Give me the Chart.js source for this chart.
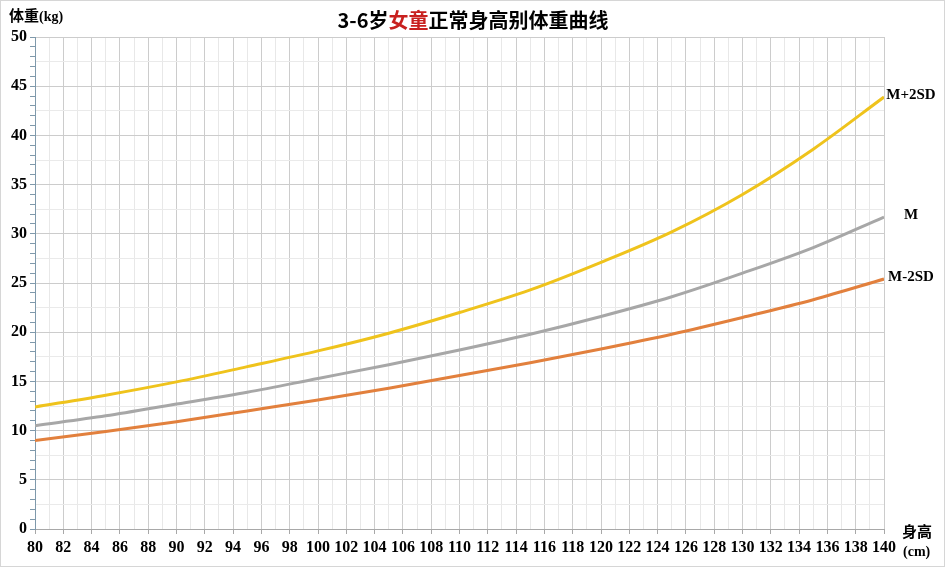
<!DOCTYPE html>
<html>
<head>
<meta charset="utf-8">
<script src="https://cdn.jsdelivr.net/npm/chart.js@4/dist/chart.umd.min.js"></script>
<style>
  html, body { margin: 0; padding: 0; background: #fff; }
  #wrap { position: relative; width: 946px; height: 568px; overflow: hidden; }
  canvas { position: absolute; left: 0; top: 0; }
  .t { position: absolute; white-space: nowrap; color: #000; font-weight: bold; }
  .cjk { font-family: "Noto Sans CJK SC", sans-serif; }
  .ser { font-family: "Liberation Serif", "Times New Roman", serif; }
  #frame { position: absolute; left: 0; top: 0; width: 943px; height: 565px; border: 1.5px solid #d6d6d6; pointer-events: none; }
</style>
</head>
<body>
<div id="wrap">
  <canvas id="c" width="946" height="568"></canvas>
  <div class="t cjk" style="left:0;width:946px;top:7px;text-align:center;font-size:20px;line-height:26px;">3-6岁<span style="color:#c8201e">女童</span>正常身高别体重曲线</div>
  <div class="t" style="left:9px;top:4px;font-size:15px;line-height:22px;"><span class="cjk">体重</span><span class="ser" style="font-size:14px">(kg)</span></div>
  <div class="t cjk" style="left:902px;top:520px;font-size:15px;line-height:22px;">身高</div>
  <div class="t ser" style="left:903px;top:542px;font-size:14px;line-height:20px;">(cm)</div>
  <div id="frame"></div>
</div>
<script>
// ---- data ----
const heights   = [80, 85, 90, 95, 100, 105, 110, 115, 120, 125, 130, 135, 140];
const mPlus2SD  = [12.4, 13.6, 14.95, 16.5, 18.1, 19.9, 22.0, 24.3, 27.1, 30.2, 34.0, 38.6, 43.9];
const median    = [10.5, 11.5, 12.7, 13.9, 15.3, 16.7, 18.2, 19.8, 21.6, 23.6, 26.0, 28.6, 31.7];
const mMinus2SD = [9.0, 9.9, 10.9, 12.0, 13.1, 14.3, 15.6, 16.9, 18.3, 19.8, 21.5, 23.3, 25.4];
const seriesNames = ['M+2SD', 'M', 'M-2SD'];
const xTickLabels = [80,82,84,86,88,90,92,94,96,98,100,102,104,106,108,110,112,114,116,118,120,122,124,126,128,130,132,134,136,138,140];
const yTickLabels = [0,5,10,15,20,25,30,35,40,45,50];

const colors = ['#efc31c', '#a7a7a7', '#e2803d'];
const toPts = arr => arr.map((v, i) => ({ x: heights[i], y: v }));
const serif = '"Liberation Serif", "Times New Roman", serif';

const endLabels = {
  id: 'endLabels',
  afterDatasetsDraw(chart) {
    const ctx = chart.ctx;
    const ys = chart.scales.y;
    ctx.save();
    ctx.font = 'bold 15px ' + serif;
    ctx.fillStyle = '#000';
    ctx.textAlign = 'center';
    ctx.textBaseline = 'middle';
    chart.data.datasets.forEach((ds, i) => {
      const last = ds.data[ds.data.length - 1];
      ctx.fillText(seriesNames[i], chart.chartArea.right + 27, ys.getPixelForValue(last.y) - 2);
    });
    ctx.restore();
  }
};

new Chart(document.getElementById('c'), {
  type: 'line',
  data: {
    datasets: [mPlus2SD, median, mMinus2SD].map((arr, i) => ({
      label: seriesNames[i],
      data: toPts(arr),
      borderColor: colors[i],
      backgroundColor: colors[i],
      borderWidth: 3,
      pointRadius: 0,
      cubicInterpolationMode: 'monotone',
      fill: false
    }))
  },
  options: {
    responsive: false,
    animation: false,
    devicePixelRatio: 1,
    layout: { padding: { left: 0, right: 62, top: 37, bottom: 0 } },
    plugins: { legend: { display: false }, tooltip: { enabled: false } },
    scales: {
      x: {
        type: 'linear', min: 80, max: 140,
        afterBuildTicks(scale) {
          const t = [];
          for (let v = 80; v <= 140; v++) t.push({ value: v });
          scale.ticks = t;
        },
        afterFit(scale) { scale.height = 39; },
        border: { color: '#a8a8a8', width: 1 },
        grid: {
          color: c => (c.tick && xTickLabels.includes(c.tick.value)) ? '#cccccc' : '#e8e8e8',
          tickColor: c => (c.tick && xTickLabels.includes(c.tick.value)) ? '#a8a8a8' : 'rgba(0,0,0,0)',
          tickLength: 5,
          lineWidth: 1
        },
        ticks: {
          autoSkip: false, maxRotation: 0, padding: 4,
          color: '#000',
          font: { family: serif, size: 16, weight: 'bold' },
          callback: v => xTickLabels.includes(v) ? String(v) : ''
        }
      },
      y: {
        type: 'linear', min: 0, max: 50,
        afterBuildTicks(scale) {
          const t = [];
          for (let v = 0; v <= 50; v += 0.5) t.push({ value: v });
          scale.ticks = t;
        },
        afterFit(scale) { scale.width = 35; },
        border: { color: '#7f99ab', width: 1 },
        grid: {
          color: c => {
            const v = c.tick ? c.tick.value : 0;
            if (yTickLabels.includes(v)) return '#cccccc';
            if (Math.abs(v / 2.5 - Math.round(v / 2.5)) < 1e-9) return '#eaeaea';
            return 'rgba(0,0,0,0)';
          },
          tickColor: c => (c.tick && Number.isInteger(c.tick.value)) ? '#7f99ab' : 'rgba(0,0,0,0)',
          tickLength: 5,
          lineWidth: 1
        },
        ticks: {
          autoSkip: false, padding: 3,
          color: '#000',
          font: { family: serif, size: 16, weight: 'bold' },
          callback: v => yTickLabels.includes(v) ? String(v) : ''
        }
      }
    }
  },
  plugins: [endLabels]
});
</script>
</body>
</html>
